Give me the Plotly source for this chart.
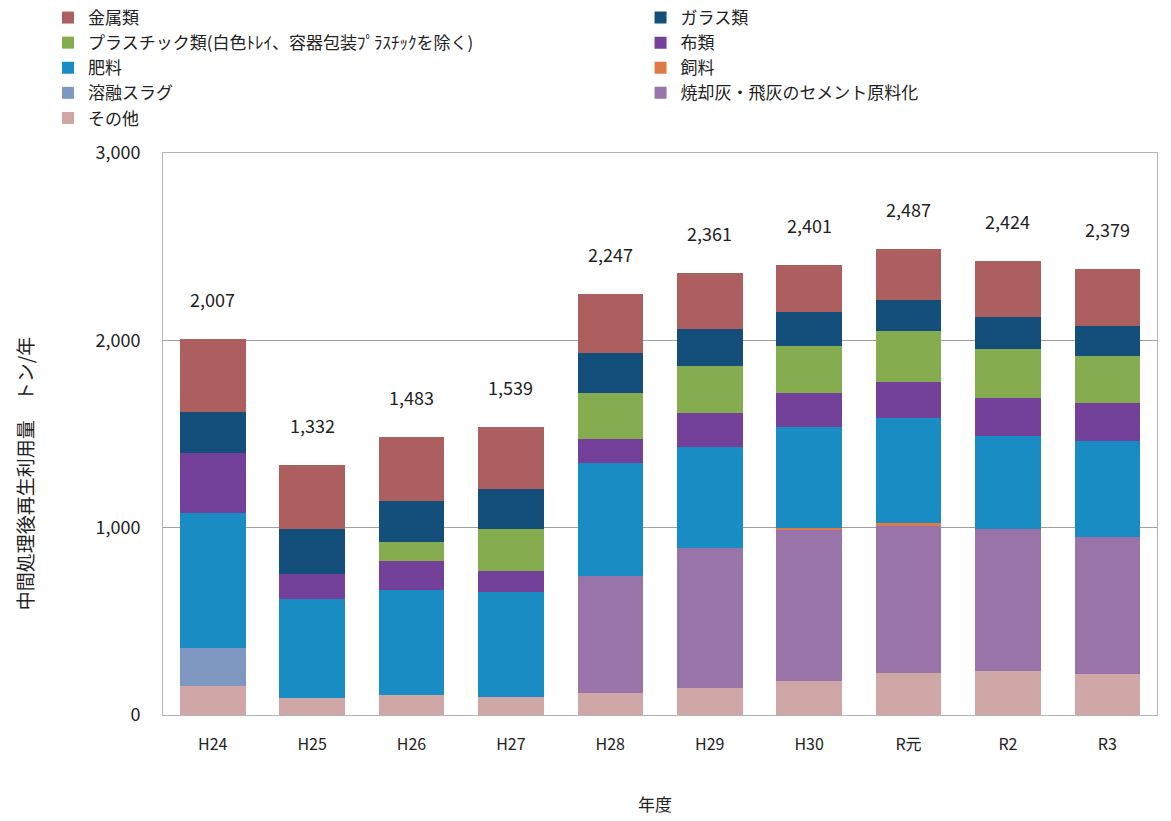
import plotly.graph_objects as go

years = ["H24", "H25", "H26", "H27", "H28", "H29", "H30", "R元", "R2", "R3"]

# stack order bottom -> top
other = [155, 90, 105, 95, 116, 143, 183, 226, 233, 220]
cement = [0, 0, 0, 0, 624, 748, 807, 783, 758, 730]
slag = [202, 0, 0, 0, 0, 0, 0, 0, 0, 0]
feed = [0, 0, 0, 0, 0, 0, 10, 15, 0, 0]
fertilizer = [721, 530, 562, 560, 606, 540, 536, 563, 501, 514]
cloth = [318, 135, 156, 112, 128, 182, 183, 193, 202, 200]
plastic = [0, 0, 103, 226, 246, 249, 253, 271, 260, 253]
glass = [221, 240, 214, 211, 214, 197, 178, 166, 169, 162]
metal = [390, 337, 343, 335, 313, 302, 251, 270, 301, 300]

y_ticks = [0, 1000, 2000, 3000]
y_tick_text = ["0", "1,000", "2,000", "3,000"]

_FONT = "'Noto Sans CJK JP', 'Noto Sans', sans-serif"

# (name, values, colour, legend column, rank within column)
series = [
    ("その他", other, "#cfa7a6", "legend", 5),
    ("焼却灰・飛灰のセメント原料化", cement, "#9874a9", "legend2", 4),
    ("溶融スラグ", slag, "#7e98c2", "legend", 4),
    ("飼料", feed, "#dd7a45", "legend2", 3),
    ("肥料", fertilizer, "#1a8cc4", "legend", 3),
    ("布類", cloth, "#74419a", "legend2", 2),
    ("プラスチック類(白色ﾄﾚｲ、容器包装ﾌﾟﾗｽﾁｯｸを除く)", plastic, "#85ad50", "legend", 2),
    ("ガラス類", glass, "#144f7c", "legend2", 1),
    ("金属類", metal, "#ad5f60", "legend", 1),
]

fig = go.Figure()
for name, vals, color, leg, rank in series:
    fig.add_trace(go.Bar(
        x=years, y=vals, name=name, legend=leg, legendrank=rank,
        marker=dict(color=color, line=dict(width=0)),
    ))

totals = [sum(v) for v in zip(*[s[1] for s in series])]
for yr, t in zip(years, totals):
    fig.add_annotation(
        x=yr, y=t, text=f"{t:,}", showarrow=False, yshift=40,
        font=dict(family=_FONT, size=18, color="#222"),
    )

# axis titles placed by hand so the fixed margins hold
fig.add_annotation(
    xref="paper", yref="paper", x=-0.139, y=0.43, textangle=-90,
    xanchor="center", yanchor="middle",
    text="中間処理後再生利用量　トン/年", showarrow=False,
    font=dict(family=_FONT, size=19, color="#222"),
)
fig.add_annotation(
    xref="paper", yref="paper", x=0.495, y=-0.157, text="年度", showarrow=False,
    xanchor="center", yanchor="middle",
    font=dict(family=_FONT, size=17, color="#222"),
)

leg_common = dict(
    orientation="v", traceorder="normal", xref="container", yref="container",
    y=1.0, yanchor="top", xanchor="left",
    font=dict(size=17), itemwidth=30, tracegroupgap=0, bgcolor="rgba(0,0,0,0)",
)
fig.update_layout(
    width=1171, height=821,
    barmode="stack", bargap=0.34,
    paper_bgcolor="white", plot_bgcolor="white",
    font=dict(family=_FONT, color="#222", size=15),
    margin=dict(l=163, r=14, t=153, b=106, autoexpand=False),
    legend=dict(x=0.041, **leg_common),
    legend2=dict(x=0.547, **leg_common),
)
fig.update_xaxes(
    showgrid=False, showline=True, linecolor="#b5b5b5", mirror=True,
    ticks="", tickfont=dict(size=16), ticklabelstandoff=15,
)
fig.update_yaxes(
    range=[0, 3000], tickvals=y_ticks, ticktext=y_tick_text,
    showgrid=True, gridcolor="#a0a0a0", zeroline=False,
    showline=True, linecolor="#b5b5b5", mirror=True,
    ticks="", ticklabelstandoff=18, tickfont=dict(size=18),
)

# drop the default page margin so the figure sits flush in the window
fig.write_html(
    "out.html",
    config={"displayModeBar": False},
    post_script="document.body.style.margin='0';",
)
